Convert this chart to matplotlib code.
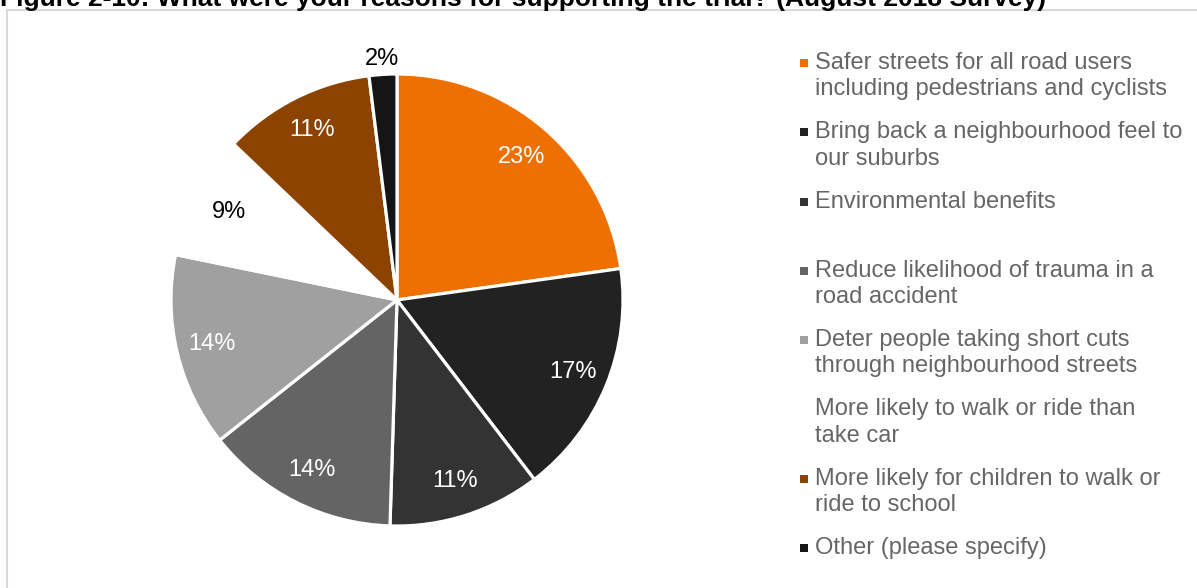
import matplotlib
matplotlib.use("Agg")
import matplotlib.pyplot as plt
from matplotlib.patches import Rectangle
import numpy as np

plt.rcParams["font.family"] = ["Liberation Sans", "DejaVu Sans"]

reasons = [
    "Safer streets for all road users\nincluding pedestrians and cyclists",
    "Bring back a neighbourhood feel to\nour suburbs",
    "Environmental benefits",
    "Reduce likelihood of trauma in a\nroad accident",
    "Deter people taking short cuts\nthrough neighbourhood streets",
    "More likely to walk or ride than\ntake car",
    "More likely for children to walk or\nride to school",
    "Other (please specify)",
]
shares = [23, 17, 11, 14, 14, 9, 11, 2]
colors = ["#ED7000", "#222222", "#333333", "#646464", "#A0A0A0",
          "#FFFFFF", "#8C4300", "#151515"]
label_colors = ["white", "white", "white", "white", "white",
                "black", "white", "black"]

W, H = 1197, 588
fig = plt.figure(figsize=(W / 100, H / 100), dpi=100)

# frame of the chart area (cut by the image edges)
fig.patches.append(Rectangle((7 / W, -0.1), 1.2, 1 - 10 / H + 0.1,
                             transform=fig.transFigure, fill=False,
                             edgecolor="#D9D9D9", linewidth=1.5))

fig.text(0.0, 1 - 6 / H, "Figure 2-10: What were your reasons for supporting "
         "the trial? (August 2018 Survey)", fontsize=19, fontweight="bold",
         ha="left", va="baseline", color="black")

cx, cy, r = 397, 300, 226
ax = fig.add_axes([(cx - r) / W, (H - cy - r) / H, 2 * r / W, 2 * r / H])
wedges, _ = ax.pie(shares, colors=colors, startangle=90, counterclock=False,
                   wedgeprops=dict(edgecolor="white", linewidth=2.3))
ax.set_xlim(-1, 1)
ax.set_ylim(-1, 1)

for w, s, c in zip(wedges, shares, label_colors):
    ang = np.deg2rad((w.theta1 + w.theta2) / 2)
    d = 1.07 if s < 5 else 0.84
    ax.text(d * np.cos(ang), d * np.sin(ang), f"{s}%", color=c,
            fontsize=17, ha="center", va="center")

# legend, one slot per entry
y0, step, line = 63, 69.3, 26
for i, (lab, col) in enumerate(zip(reasons, colors)):
    y = y0 + i * step
    if col.upper() != "#FFFFFF":
        fig.patches.append(Rectangle((800 / W, 1 - (y + 4) / H), 8 / W, 8 / H,
                                     transform=fig.transFigure,
                                     facecolor=col, edgecolor="none"))
    nlines = lab.count("\n") + 1
    yc = y + (nlines - 1) * line / 2
    fig.text(815 / W, 1 - yc / H, lab, fontsize=17, color="#666666",
             ha="left", va="center", linespacing=1.27)

fig.savefig("out.png", dpi=100)
